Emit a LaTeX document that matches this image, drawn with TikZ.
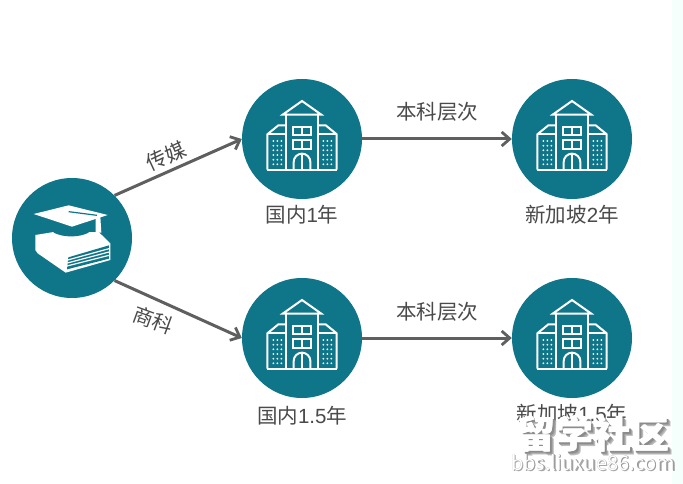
\documentclass[tikz,border=0pt]{standalone}
\usepackage{fontspec}
\setmainfont{Noto Sans CJK SC}
\newfontfamily\numf{Liberation Sans}
\usetikzlibrary{arrows.meta}
\definecolor{teal1}{HTML}{0F7589}
\definecolor{ink}{HTML}{4A4A4A}
\definecolor{arrowc}{HTML}{5F5F5F}
\tikzset{
  disc/.style={circle,fill=teal1,minimum size=120pt,inner sep=0pt},
  lbl/.style={text=ink,font=\fontsize{20.5}{22}\selectfont,inner sep=0pt},
  conn/.style={draw=arrowc,line width=3pt,-{Straight Barb[length=8pt,width=14pt,line width=2.8pt]}},
  bline/.style={draw=white,line width=2pt,line join=miter},
  wm/.style={inner sep=0pt,font=\bfseries\fontsize{38}{40}\selectfont},
  wms/.style={inner sep=0pt,font=\fontsize{20}{22}\selectfont}
}
\newcommand{\shad}[3]{\rlap{\hspace{#2}\raisebox{-#2}{\textcolor{black!#3}{#1}}}}
\newcommand{\wmtext}[1]{\shad{#1}{4pt}{25}\shad{#1}{3pt}{35}\shad{#1}{2pt}{45}\rlap{\hspace{-.6pt}\raisebox{.6pt}{\textcolor{white}{#1}}}\rlap{\hspace{.6pt}\textcolor{white}{#1}}\textcolor{white}{#1}}
\newcommand{\wmthin}[1]{\shad{#1}{1.6pt}{35}\shad{#1}{.8pt}{40}\textcolor{white}{#1}}
\newcommand{\bldg}[1]{%
\begin{scope}[shift={(#1.center)},x=.3333pt,y=-.3333pt,shift={(-201,-206)}]
  \draw[bline] (143,133)--(201,92)--(259,133)--cycle;
  \draw[bline] (152,133)--(152,298) (250,133)--(250,298);
  \draw[bline] (97,298)--(97,192)--(130,165)--(152,165);
  \draw[bline] (97,192)--(152,192);
  \draw[bline] (305,298)--(305,192)--(272,165)--(250,165);
  \draw[bline] (305,192)--(250,192);
  \draw[bline] (97,298)--(305,298);
  \draw[bline] (173,170) rectangle (229,195) (201,170)--(201,195);
  \draw[bline] (173,210) rectangle (229,235) (201,210)--(201,235);
  \draw[bline] (176,298)--(176,275) arc[start angle=180,end angle=0,x radius=25,y radius=-25]--(226,298);
  \draw[bline] (201,250)--(201,298);
  \foreach \y in {212,226,240,254,268,282}{
    \foreach \x in {115,127,139,265,277,289}{
      \fill[white] (\x,\y) circle[radius=3];
    }
  }
\end{scope}}
\begin{document}
\begin{tikzpicture}[x=1pt,y=-1pt]
\useasboundingbox (0,0) rectangle (683,484);
\fill[white] (0,0) rectangle (683,484);
\fill[green!40!cyan!4] (672,0) rectangle (683,484);
\node[disc] (a) at (72,238) {};
\node[disc] (b) at (302,139) {};
\node[disc] (c) at (572,139) {};
\node[disc] (d) at (302,338) {};
\node[disc] (e) at (572,338) {};
\bldg{b}\bldg{c}\bldg{d}\bldg{e}
\begin{scope}[shift={(a.center)},x=.3333pt,y=-.3333pt,shift={(-215,-204)}]
  \fill[white] (105,195)--(160,186)--(265,186)--(295,186)--(330,220)--(330,270)--(196,308)--(112,250) .. controls (104,244) and (103,236) .. (105,228)--cycle;
  \fill[teal1] (204,262)--(326,226)--(326,266)--(200,298)--cycle;
  \draw[white,line width=1.2pt] (202,270)--(326,236) (201,279)--(326,246) (200,288)--(326,256);
  \fill[teal1] (160,150)--(265,150)--(265,188) .. controls (235,203) and (190,203) .. (160,188)--cycle;
  \fill[white] (100,132)--(205,106)--(322,135)--(215,170)--cycle;
  \draw[teal1,line width=1.2pt] (205,125)--(290,136);
  \fill[white] (286,145)--(300,140)--(303,188)--(286,188)--cycle;
\end{scope}
\draw[conn] (a.45) -- (b.west);
\draw[conn] (a.-45) -- (d.west);
\draw[conn] (b.east) -- (c.west);
\draw[conn] (d.east) -- (e.west);
\node[lbl,rotate=25] (t1) at (166,156) {传媒};
\node[lbl,rotate=-20] (t2) at (153,320) {商科};
\node[lbl] (t3) at (437,112) {本科层次};
\node[lbl] (t4) at (437,312) {本科层次};
\node[lbl] (t5) at (302,215) {国内{\numf 1}年};
\node[lbl] (t6) at (572,215) {新加坡{\numf 2}年};
\node[lbl] (t7) at (302,416) {国内{\numf 1.5}年};
\node[lbl] (t8) at (572,414) {新加坡{\numf 1.5}年};
\node[wm] (w1) at (593,436) {\wmtext{留学社区}};
\node[wms] (w2) at (593,463) {\wmthin{bbs.liuxue86.com}};
\end{tikzpicture}
\end{document}
